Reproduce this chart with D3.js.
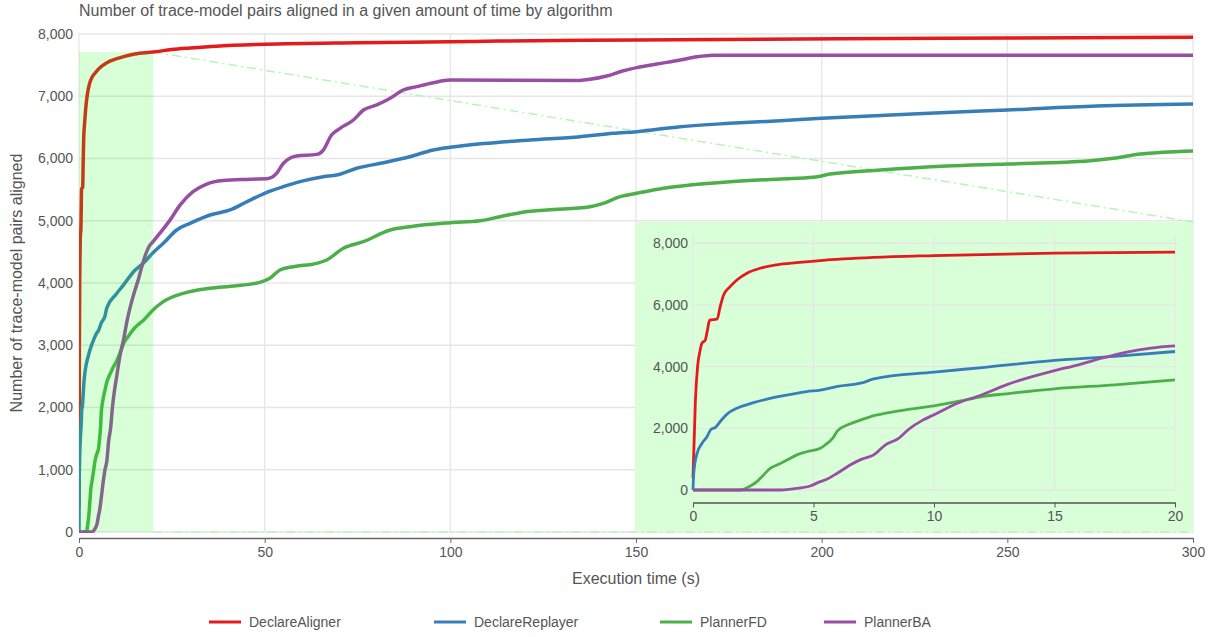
<!DOCTYPE html>
<html>
<head>
<meta charset="utf-8">
<script src="https://cdn.jsdelivr.net/npm/d3@7"></script>
<style>
  body { margin: 0; background: #fff; }
  svg text { font-family: "Liberation Sans", Arial, sans-serif; }
</style>
</head>
<body>
<div id="chart"></div>
<script>

// series names, in drawing order
const algorithms = ["DeclareAligner", "DeclareReplayer", "PlannerFD", "PlannerBA"];
const algoColors = ["#e41a1c", "#377eb8", "#4daf4a", "#984ea3"];

// [time (s), pairs aligned]
const declareAligner = [
    [0, 400], [0.1, 2900], [0.19, 4000], [0.3, 4540], [0.37, 4760], [0.51, 4860], [0.6, 5190],
    [0.69, 5510], [1.0, 5540], [1.13, 5950], [1.27, 6320], [1.55, 6600], [1.82, 6810],
    [2.24, 7030], [2.79, 7190], [3.48, 7300], [4.3, 7370], [5.28, 7440], [7.5, 7540],
    [10, 7600], [15, 7680], [20, 7710], [25, 7750], [30, 7775], [37, 7805], [50, 7835],
    [75, 7860], [100, 7876], [113, 7887], [150, 7905], [205, 7925], [250, 7935], [300, 7947]
];
const declareReplayer = [
    [0, 0], [0.03, 540], [0.17, 1190], [0.37, 1510], [0.58, 1730], [0.75, 1970], [0.93, 2030],
    [1.13, 2220], [1.41, 2460], [1.82, 2650], [2.51, 2830], [3.2, 2970], [3.9, 3080],
    [4.72, 3190], [5.28, 3240], [6, 3360], [7, 3470], [7.5, 3600], [10, 3820], [12, 3970],
    [15, 4200], [17.5, 4330], [20, 4490], [22.7, 4637], [26.3, 4851], [29.9, 4958],
    [35.3, 5092], [40.7, 5173], [45.2, 5306], [50, 5441], [55, 5547], [59.5, 5628],
    [65.8, 5708], [69.4, 5735], [74.8, 5843], [82, 5933], [89.1, 6029], [95.4, 6137],
    [100, 6180], [108.9, 6240], [121.5, 6297], [135, 6350], [143.9, 6404], [150.2, 6431],
    [161.9, 6511], [175.3, 6565], [188.8, 6607], [200, 6645], [229, 6726], [250, 6779],
    [274, 6843], [300, 6876]
];
const plannerFD = [
    [0, 0], [1.96, 0], [2.38, 130], [2.65, 270], [2.93, 490], [3.2, 700], [3.48, 810],
    [3.9, 970], [4.31, 1140], [4.72, 1240], [5.28, 1350], [5.5, 1470], [5.8, 1680],
    [6.0, 1920], [6.5, 2140], [7, 2280], [7.5, 2410], [8, 2490], [9, 2620], [10, 2730],
    [11, 2870], [12, 3030], [13, 3120], [15, 3280], [17.5, 3410], [20, 3570], [22.7, 3700],
    [28.1, 3834], [35.3, 3915], [41.6, 3952], [48.7, 4011], [51.4, 4075], [54.1, 4209],
    [57.7, 4262], [64, 4316], [66.7, 4370], [71.2, 4557], [76.6, 4664], [83.8, 4851],
    [89.1, 4905], [100, 4969], [108, 5000], [113.4, 5065], [118.8, 5130], [126, 5173],
    [137.6, 5226], [141.2, 5280], [145.7, 5387], [150.2, 5441], [157.4, 5521], [164.6, 5574],
    [175.3, 5627], [188.8, 5671], [197.8, 5698], [202.3, 5750], [215.7, 5815], [233.7, 5880],
    [250, 5912], [272.3, 5965], [278.6, 6003], [285.8, 6072], [292, 6100], [300, 6120]
];
const plannerBA = [
    [0, 0], [3.48, 0], [4.17, 40], [4.86, 130], [5.28, 270], [5.5, 330], [6, 550], [6.5, 800],
    [7, 1000], [7.5, 1140], [8, 1470], [8.5, 1660], [9, 2000], [9.5, 2250], [10, 2440],
    [11, 2820], [12, 3090], [13, 3410], [14, 3660], [15, 3870], [16, 4060], [17, 4280],
    [18, 4470], [19, 4600], [20, 4670], [21.8, 4800], [24.5, 5010], [27.2, 5250],
    [30.7, 5467], [34.4, 5590], [38.8, 5645], [46, 5666], [51, 5680], [53.2, 5760],
    [55, 5920], [58.6, 6040], [64, 6066], [65.8, 6136], [68, 6377], [70.3, 6485],
    [73.9, 6618], [76.6, 6779], [80.2, 6860], [83.8, 6967], [87.3, 7100], [90.9, 7154],
    [95.4, 7218], [100, 7261], [135, 7255], [137.6, 7272], [142.1, 7325], [146.6, 7410],
    [150.2, 7460], [155.6, 7518], [161.9, 7582], [166.4, 7635], [170.8, 7660], [300, 7657]
];
const seriesData = [declareAligner, declareReplayer, plannerFD, plannerBA];

// tick values
const mainXTicks = [0, 50, 100, 150, 200, 250, 300];
const mainYTicks = [0, 1000, 2000, 3000, 4000, 5000, 6000, 7000, 8000];
const insetXTicks = [0, 5, 10, 15, 20];
const insetYTicks = [0, 2000, 4000, 6000, 8000];

// zoomed window: 0..20 s, up to the aligner's value there
const zoomWindow = [20, 7710];

const titleText = "Number of trace-model pairs aligned in a given amount of time by algorithm";
const xTitle = "Execution time (s)";
const yTitle = "Number of trace-model pairs aligned";

const W = 1218, H = 637;
const margin = { top: 34, right: 25, bottom: 105, left: 79 };
const width = W - margin.left - margin.right;
const height = H - margin.top - margin.bottom;

const svg = d3.select("#chart").append("svg")
    .attr("width", W)
    .attr("height", H);

const g = svg.append("g")
    .attr("transform", "translate(" + margin.left + "," + margin.top + ")");

const x = d3.scaleLinear().domain([0, 300]).range([0, width]);
const y = d3.scaleLinear().domain([0, 8000]).range([height, 0]);

const fmt = d3.format(",");
const gridColor = "#e6e6e6";
const textColor = "#555";

// title
svg.append("text")
    .attr("x", margin.left)
    .attr("y", 16)
    .attr("fill", textColor)
    .style("font-size", "16px")
    .text(titleText);

// grid
g.append("g").selectAll("line.hgrid")
    .data(mainYTicks).enter().append("line")
    .attr("x1", 0).attr("x2", width)
    .attr("y1", d => y(d)).attr("y2", d => y(d))
    .attr("stroke", gridColor).attr("stroke-width", 1.3);

g.append("g").selectAll("line.vgrid")
    .data(mainXTicks).enter().append("line")
    .attr("x1", d => x(d)).attr("x2", d => x(d))
    .attr("y1", -1).attr("y2", height)
    .attr("stroke", gridColor).attr("stroke-width", 1.3);

// y tick labels (no axis line)
g.append("g").selectAll("text")
    .data(mainYTicks).enter().append("text")
    .attr("x", -6)
    .attr("y", d => y(d))
    .attr("dy", "0.35em")
    .attr("text-anchor", "end")
    .attr("fill", textColor)
    .style("font-size", "14px")
    .text(d => fmt(d));

// x axis, offset below the plot
const xAxisG = g.append("g")
    .attr("transform", "translate(0," + (height + 6) + ")")
    .call(d3.axisBottom(x).tickValues(mainXTicks).tickSize(5).tickPadding(4).tickSizeOuter(0));
xAxisG.select(".domain").attr("stroke", "#666").attr("stroke-width", 1.5);
xAxisG.selectAll(".tick line").attr("stroke", "#666");
xAxisG.selectAll(".tick text")
    .attr("fill", textColor)
    .style("font-size", "14px")
    .style("font-family", "Liberation Sans, Arial, sans-serif");

// axis titles
g.append("text")
    .attr("x", width / 2)
    .attr("y", height + 52)
    .attr("text-anchor", "middle")
    .attr("fill", textColor)
    .style("font-size", "16px")
    .text(xTitle);

g.append("text")
    .attr("transform", "translate(" + (-57) + "," + (height / 2) + ") rotate(-90)")
    .attr("text-anchor", "middle")
    .attr("fill", textColor)
    .style("font-size", "16px")
    .text(yTitle);

// inset placement (in main-plot pixel coords)
const inset = { left: 556, top: 188, right: width, bottom: height };
const insetPlot = { left: inset.left + 58, right: inset.right - 18, top: inset.top + 12, bottom: inset.bottom - 42 };

g.append("rect")
    .attr("x", inset.left).attr("y", inset.top)
    .attr("width", inset.right - inset.left)
    .attr("height", inset.bottom - inset.top)
    .attr("fill", "#d9ffd9");

// connectors from the zoom window to the inset
const connectors = [
    [[x(zoomWindow[0]), y(zoomWindow[1])], [inset.right, inset.top]],
    [[x(zoomWindow[0]), y(0)], [inset.right, inset.bottom]]
];
g.append("g").selectAll("line")
    .data(connectors).enter().append("line")
    .attr("x1", d => d[0][0]).attr("y1", d => d[0][1])
    .attr("x2", d => d[1][0]).attr("y2", d => d[1][1])
    .attr("stroke", "#b6f5b6")
    .attr("stroke-width", 1.5)
    .attr("stroke-dasharray", "9,4,2,4");

// main lines
svg.append("clipPath").attr("id", "mainClip")
    .append("rect").attr("x", 0).attr("y", -3).attr("width", width).attr("height", height + 4);

const line = d3.line()
    .x(d => x(d[0]))
    .y(d => y(d[1]))
    .curve(d3.curveMonotoneX);

g.append("g").attr("clip-path", "url(#mainClip)")
    .selectAll("path")
    .data(seriesData).enter().append("path")
    .attr("d", line)
    .attr("fill", "none")
    .attr("stroke", (d, i) => algoColors[i])
    .attr("stroke-width", 3.5)
    .attr("stroke-linejoin", "round");

// translucent highlight of the zoom window, over the lines
g.append("rect")
    .attr("x", x(0)).attr("y", y(zoomWindow[1]))
    .attr("width", x(zoomWindow[0]) - x(0))
    .attr("height", y(0) - y(zoomWindow[1]))
    .attr("fill", "rgb(0,255,0)")
    .attr("fill-opacity", 0.15);

// ---- inset chart ----
const ix = d3.scaleLinear().domain([0, zoomWindow[0]]).range([insetPlot.left, insetPlot.right]);
const iy = d3.scaleLinear().domain([0, 8300]).range([insetPlot.bottom, insetPlot.top]);

g.append("g").selectAll("line")
    .data(insetYTicks).enter().append("line")
    .attr("x1", insetPlot.left).attr("x2", insetPlot.right)
    .attr("y1", d => iy(d)).attr("y2", d => iy(d))
    .attr("stroke", gridColor).attr("stroke-width", 1.3);

g.append("g").selectAll("line")
    .data(insetXTicks).enter().append("line")
    .attr("x1", d => ix(d)).attr("x2", d => ix(d))
    .attr("y1", insetPlot.top).attr("y2", insetPlot.bottom)
    .attr("stroke", gridColor).attr("stroke-width", 1.3);

g.append("g").selectAll("text")
    .data(insetYTicks).enter().append("text")
    .attr("x", insetPlot.left - 5)
    .attr("y", d => iy(d))
    .attr("dy", "0.35em")
    .attr("text-anchor", "end")
    .attr("fill", textColor)
    .style("font-size", "14px")
    .text(d => fmt(d));

const ixAxisG = g.append("g")
    .attr("transform", "translate(0," + (insetPlot.bottom + 12.5) + ")")
    .call(d3.axisBottom(ix).tickValues(insetXTicks).tickSize(5).tickPadding(4).tickSizeOuter(0));
ixAxisG.select(".domain").attr("stroke", "#555").attr("stroke-width", 1.3);
ixAxisG.selectAll(".tick line").attr("stroke", "#555");
ixAxisG.selectAll(".tick text")
    .attr("fill", textColor)
    .style("font-size", "14px")
    .style("font-family", "Liberation Sans, Arial, sans-serif");

const insetLine = d3.line()
    .x(d => ix(d[0]))
    .y(d => iy(d[1]))
    .curve(d3.curveMonotoneX);

g.append("g")
    .selectAll("path")
    .data(seriesData.map(s => s.filter(p => p[0] <= zoomWindow[0]))).enter().append("path")
    .attr("d", insetLine)
    .attr("fill", "none")
    .attr("stroke", (d, i) => algoColors[i])
    .attr("stroke-width", 2.8)
    .attr("stroke-linejoin", "round");

// legend
const legendX = [209, 434, 660, 824];
const legend = svg.append("g").selectAll("g")
    .data(algorithms).enter().append("g")
    .attr("transform", (d, i) => "translate(" + legendX[i] + ",622)");

legend.append("line")
    .attr("x1", 0).attr("x2", 32)
    .attr("stroke", (d, i) => algoColors[i])
    .attr("stroke-width", 3);

legend.append("text")
    .attr("x", 40)
    .attr("dy", "0.35em")
    .attr("fill", textColor)
    .style("font-size", "14px")
    .text(d => d);

</script>
</body>
</html>
